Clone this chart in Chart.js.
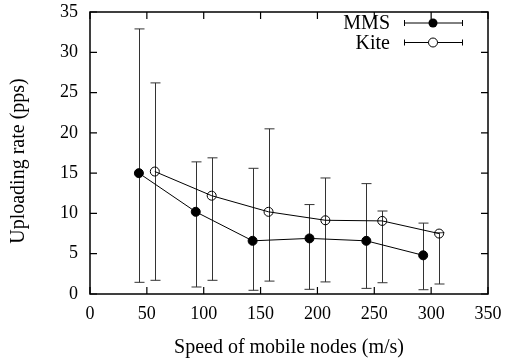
<!DOCTYPE html>
<html>
<head>
<meta charset="utf-8">
<script src="https://cdn.jsdelivr.net/npm/chart.js@4"></script>
<style>
  html, body { margin: 0; padding: 0; background: #fff; }
  #wrap { width: 508px; height: 362px; }
</style>
</head>
<body>
<div id="wrap"><canvas id="grafico"></canvas></div>
<script>
// Dados
const mmsX = [43, 93, 143, 193, 243, 293];
const mmsY = [15.0, 10.2, 6.6, 6.9, 6.6, 4.8];
const mmsMin = [1.45, 0.87, 0.46, 0.58, 0.7, 0.53];
const mmsMax = [32.9, 16.4, 15.6, 11.1, 13.7, 8.8];

const kiteX = [57, 107, 157, 207, 257, 307];
const kiteY = [15.2, 12.2, 10.2, 9.15, 9.07, 7.5];
const kiteMin = [1.7, 1.7, 1.6, 1.5, 1.4, 1.24];
const kiteMax = [26.2, 16.9, 20.5, 14.4, 10.3, 7.6];

const xTicks = [0, 50, 100, 150, 200, 250, 300, 350];
const yTicks = [0, 5, 10, 15, 20, 25, 30, 35];

const tituloY = 'Uploading rate (pps)';
const fonte = "'Liberation Serif', 'DejaVu Serif', serif";

function pontos(xs, ys, mins, maxs) {
    return xs.map((x, i) => ({ x: x, y: ys[i], yMin: mins[i], yMax: maxs[i] }));
}

// Plugin para barras de erro, ticks internos, moldura e legenda
const estiloGnuplot = {
    id: 'estiloGnuplot',
    beforeDatasetsDraw(chart) {
        const ctx = chart.ctx;
        const x = chart.scales.x, y = chart.scales.y;
        ctx.save();
        ctx.strokeStyle = '#333';
        ctx.lineWidth = 1;
        chart.data.datasets.forEach(ds => {
            ds.data.forEach(p => {
                const px = Math.round(x.getPixelForValue(p.x)) + 0.5;
                const y1 = y.getPixelForValue(p.yMin);
                const y2 = y.getPixelForValue(p.yMax);
                ctx.beginPath();
                ctx.moveTo(px, y1); ctx.lineTo(px, y2);
                ctx.moveTo(px - 5, y1); ctx.lineTo(px + 5, y1);
                ctx.moveTo(px - 5, y2); ctx.lineTo(px + 5, y2);
                ctx.stroke();
            });
        });
        ctx.restore();
    },
    afterDraw(chart) {
        const ctx = chart.ctx;
        const a = chart.chartArea;
        const x = chart.scales.x, y = chart.scales.y;
        ctx.save();
        ctx.strokeStyle = '#000';
        ctx.lineWidth = 1.5;
        ctx.strokeRect(a.left, a.top, a.right - a.left, a.bottom - a.top);
        ctx.lineWidth = 1.2;
        ctx.beginPath();
        xTicks.forEach(v => {
            const px = x.getPixelForValue(v);
            ctx.moveTo(px, a.bottom); ctx.lineTo(px, a.bottom - 7);
            ctx.moveTo(px, a.top); ctx.lineTo(px, a.top + 7);
        });
        yTicks.forEach(v => {
            const py = y.getPixelForValue(v);
            ctx.moveTo(a.left, py); ctx.lineTo(a.left + 7, py);
            ctx.moveTo(a.right, py); ctx.lineTo(a.right - 7, py);
        });
        ctx.stroke();

        // Título do eixo Y (um pouco abaixo do centro, como no original)
        ctx.font = '20px ' + fonte;
        ctx.fillStyle = '#000';
        ctx.textAlign = 'center';
        ctx.textBaseline = 'middle';
        ctx.save();
        ctx.translate(19, (a.top + a.bottom) / 2 + 8);
        ctx.rotate(-Math.PI / 2);
        ctx.fillText(tituloY, 0, 0);
        ctx.restore();

        // Legenda
        ctx.textAlign = 'right';
        chart.data.datasets.forEach((ds, i) => {
            const ly = 23 + i * 19.5;
            ctx.fillText(ds.label, 390, ly + 1);
            ctx.strokeStyle = '#000';
            ctx.lineWidth = 1;
            ctx.beginPath();
            ctx.moveTo(404, ly); ctx.lineTo(463, ly);
            ctx.moveTo(404.5, ly - 3); ctx.lineTo(404.5, ly + 3);
            ctx.moveTo(462.5, ly - 3); ctx.lineTo(462.5, ly + 3);
            ctx.stroke();
            ctx.beginPath();
            ctx.arc(433, ly, 4.5, 0, Math.PI * 2);
            if (ds.pointBackgroundColor === '#000') {
                ctx.fillStyle = '#000';
                ctx.fill();
            } else {
                ctx.fillStyle = '#fff';
                ctx.fill();
                ctx.stroke();
            }
            ctx.fillStyle = '#000';
        });
        ctx.restore();
    }
};

const ctx = document.getElementById('grafico').getContext('2d');

new Chart(ctx, {
    type: 'scatter',
    data: {
        datasets: [
            {
                label: 'MMS',
                data: pontos(mmsX, mmsY, mmsMin, mmsMax),
                showLine: true,
                borderColor: '#000',
                borderWidth: 1,
                pointRadius: 4.5,
                pointBackgroundColor: '#000',
                pointBorderColor: '#000',
                pointBorderWidth: 1
            },
            {
                label: 'Kite',
                data: pontos(kiteX, kiteY, kiteMin, kiteMax),
                showLine: true,
                borderColor: '#000',
                borderWidth: 1,
                pointRadius: 4.5,
                pointBackgroundColor: 'rgba(0,0,0,0)',
                pointBorderColor: '#000',
                pointBorderWidth: 1
            }
        ]
    },
    options: {
        responsive: true,
        maintainAspectRatio: false,
        animation: false,
        layout: { padding: { top: 12, right: 20, left: 0, bottom: 0 } },
        plugins: {
            legend: { display: false },
            tooltip: { enabled: false }
        },
        scales: {
            x: {
                type: 'linear',
                min: 0,
                max: 350,
                afterFit: function (scale) {
                    scale.height = 68;
                    scale.paddingLeft = 0;
                    scale.paddingRight = 0;
                },
                grid: { display: true, drawOnChartArea: false, drawTicks: false },
                border: { display: false },
                ticks: {
                    stepSize: 50,
                    padding: 9,
                    color: '#000',
                    maxRotation: 0,
                    font: { family: fonte, size: 18 }
                },
                title: {
                    display: true,
                    text: 'Speed of mobile nodes (m/s)',
                    color: '#000',
                    font: { family: fonte, size: 20 },
                    padding: { top: 0, bottom: 2 }
                }
            },
            y: {
                type: 'linear',
                min: 0,
                max: 35,
                afterFit: function (scale) {
                    scale.width = 90;
                    scale.paddingTop = 0;
                    scale.paddingBottom = 0;
                },
                grid: { display: true, drawOnChartArea: false, drawTicks: false },
                border: { display: false },
                ticks: {
                    stepSize: 5,
                    padding: 12,
                    color: '#000',
                    font: { family: fonte, size: 18 }
                }
            }
        }
    },
    plugins: [estiloGnuplot]
});
</script>
</body>
</html>
